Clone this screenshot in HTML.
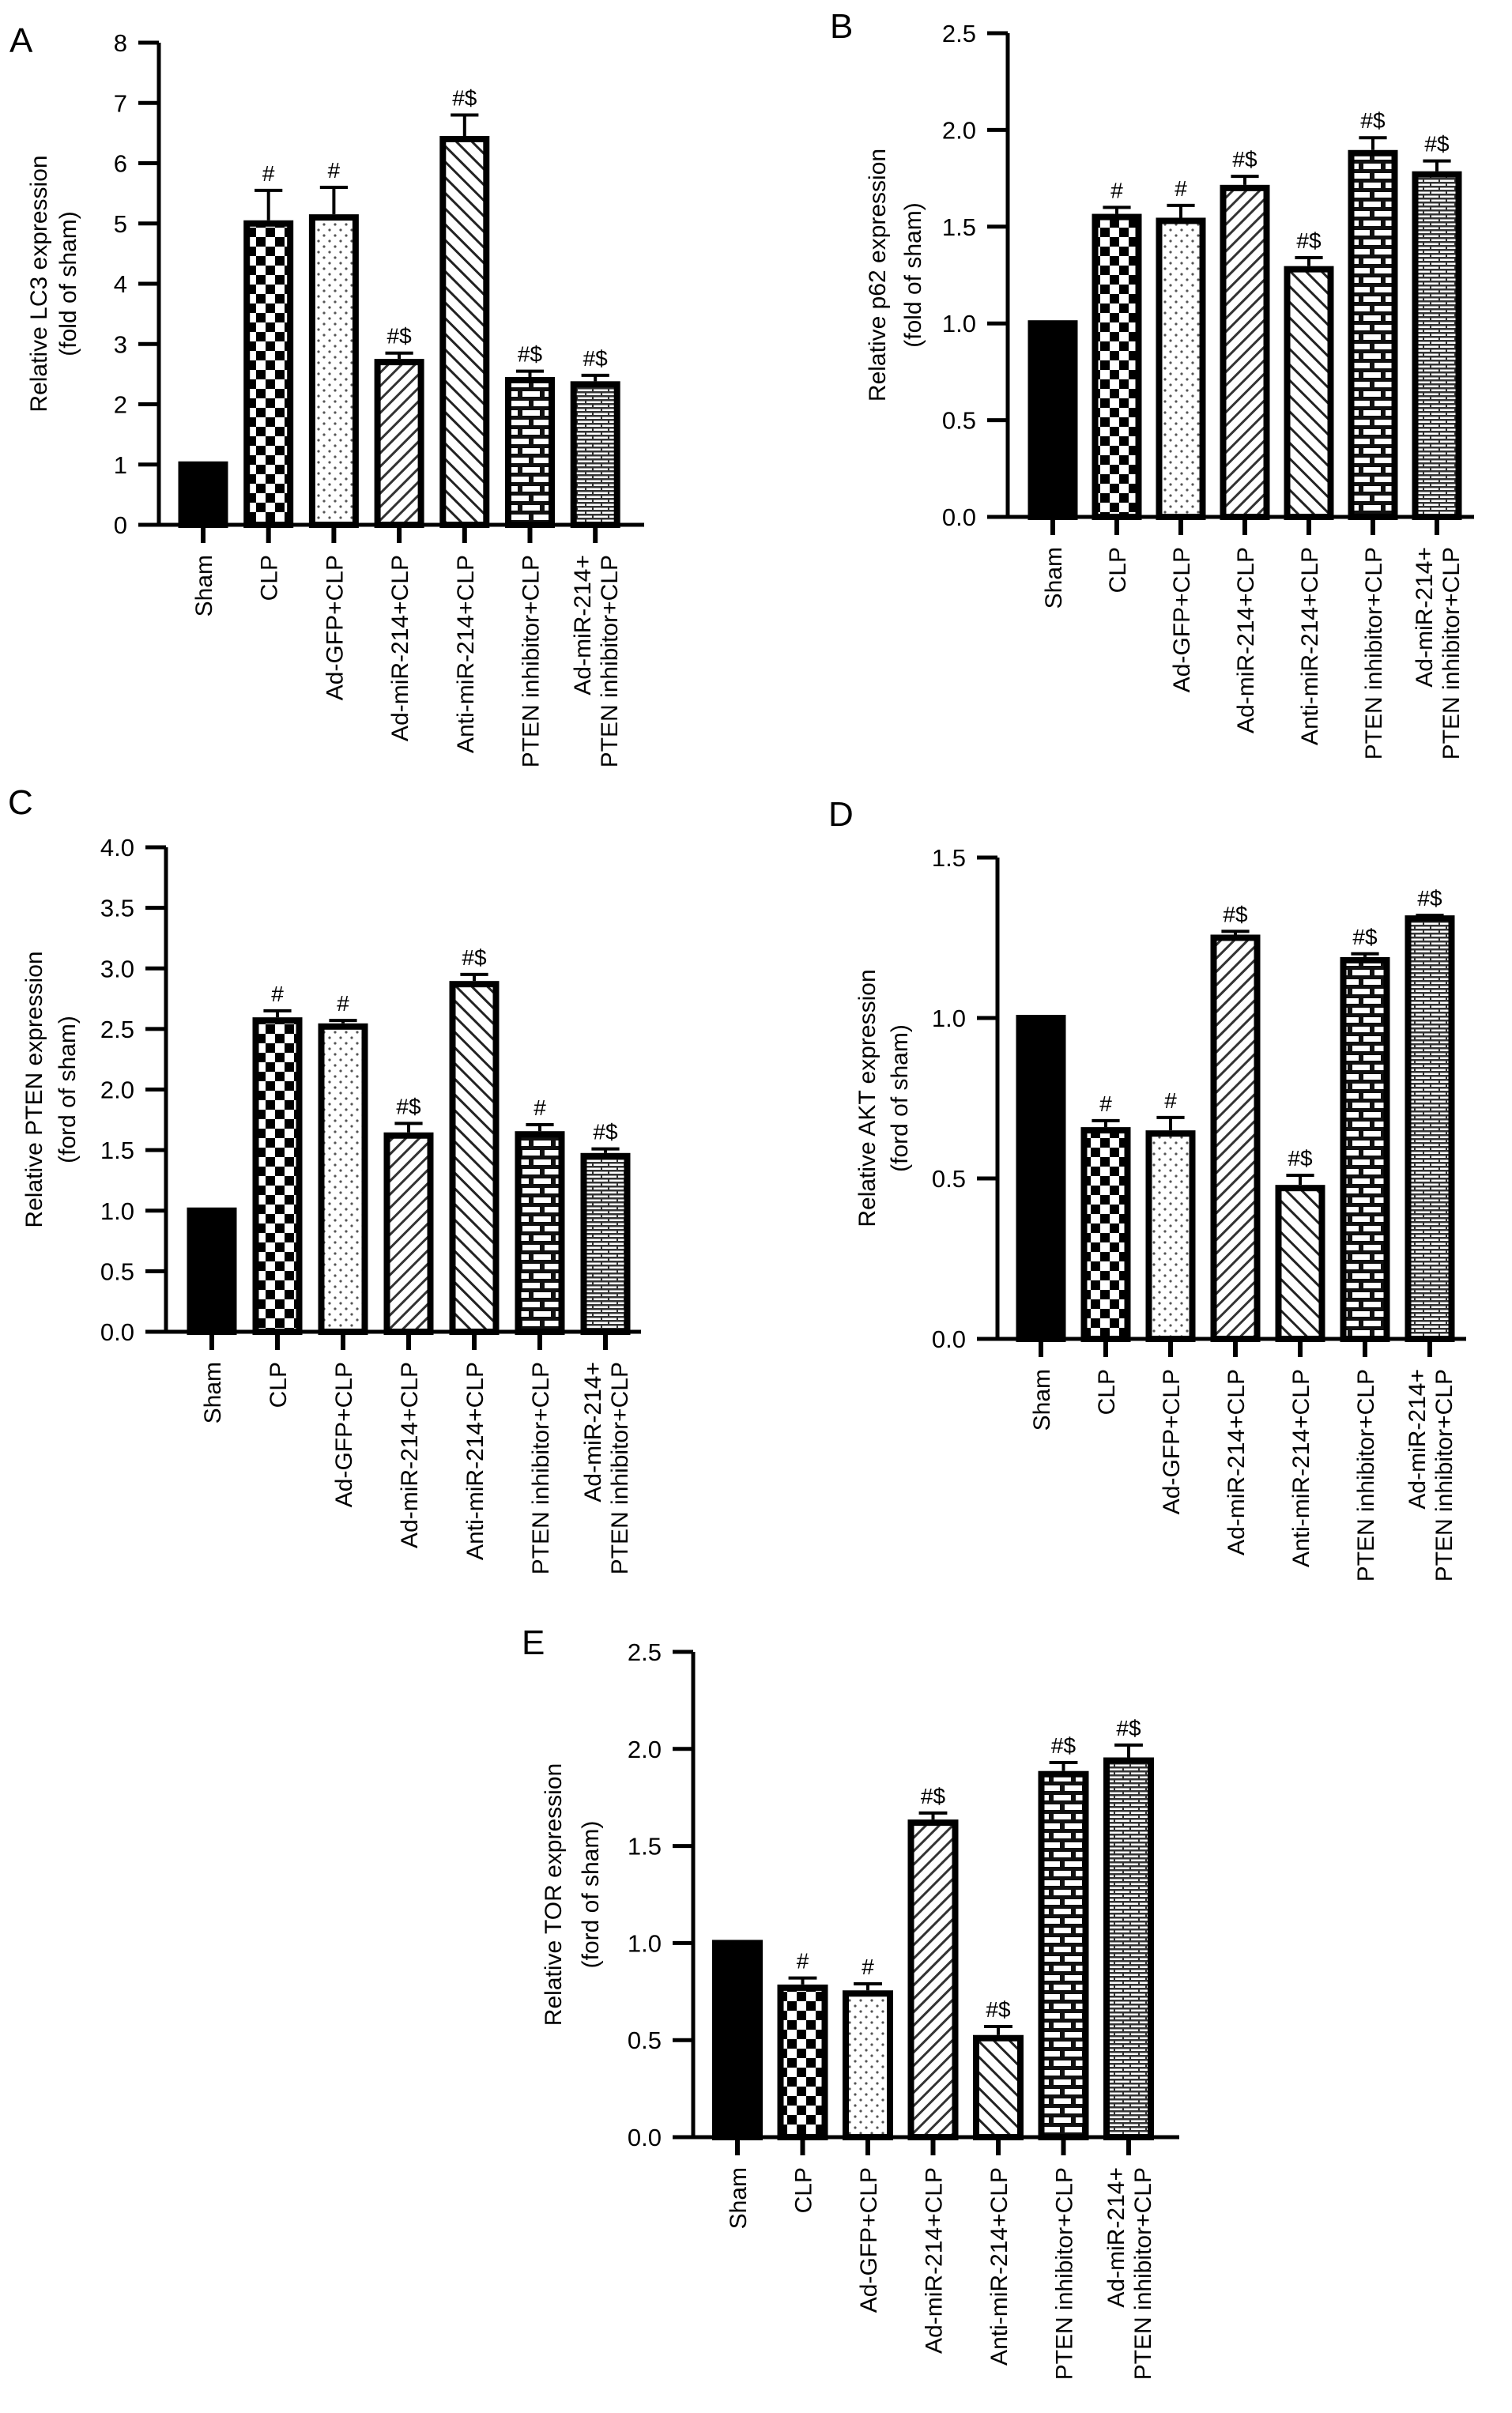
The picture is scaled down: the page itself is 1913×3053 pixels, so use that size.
<!DOCTYPE html>
<html><head><meta charset="utf-8"><style>
html,body{margin:0;padding:0;background:#fff}
svg{display:block;font-family:"Liberation Sans",Arial,sans-serif}
</style></head><body>
<svg id="fig" width="1913" height="3053" viewBox="0 0 1913 3053">
<defs>
<pattern id="p-check" width="24" height="24" patternUnits="userSpaceOnUse"><rect width="24" height="24" fill="#fff"/><rect width="12" height="12" fill="#000"/><rect x="12" y="12" width="12" height="12" fill="#000"/></pattern>
<pattern id="p-dots" width="14" height="14" patternUnits="userSpaceOnUse"><rect width="14" height="14" fill="#fff"/><circle cx="4" cy="4" r="1.6" fill="#555"/><circle cx="11" cy="11" r="1.6" fill="#555"/></pattern>
<pattern id="p-fwd" width="12" height="12" patternUnits="userSpaceOnUse" patternTransform="rotate(45)"><rect width="12" height="12" fill="#fff"/><rect width="3" height="12" fill="#333"/></pattern>
<pattern id="p-back" width="14" height="14" patternUnits="userSpaceOnUse" patternTransform="rotate(-45)"><rect width="14" height="14" fill="#fff"/><rect width="3" height="14" fill="#222"/></pattern>
<pattern id="p-brick" width="28" height="24" patternUnits="userSpaceOnUse"><rect width="28" height="24" fill="#111"/><rect x="3" y="3" width="22" height="7" fill="#fff"/><rect x="-11" y="15" width="22" height="7" fill="#fff"/><rect x="17" y="15" width="22" height="7" fill="#fff"/></pattern>
<pattern id="p-brick2" width="20" height="10" patternUnits="userSpaceOnUse"><rect width="20" height="10" fill="#fff"/><rect y="0" width="20" height="2.5" fill="#333"/><rect y="5" width="20" height="2.5" fill="#333"/><rect x="9" y="0" width="2" height="5" fill="#333"/><rect x="0" y="5" width="2" height="5" fill="#333"/></pattern>
</defs>
</svg>
<script>
const categories = ["Sham","CLP","Ad-GFP+CLP","Ad-miR-214+CLP","Anti-miR-214+CLP","PTEN inhibitor+CLP","Ad-miR-214+|PTEN inhibitor+CLP"];
const valuesA = [1, 5.0, 5.1, 2.7, 6.4, 2.4, 2.33];
const errA = [0, 0.55, 0.5, 0.15, 0.4, 0.15, 0.15];
const annA = ["", "#", "#", "#$", "#$", "#$", "#$"];
const ticksA = ["0","1","2","3","4","5","6","7","8"];
const valuesB = [1.0, 1.55, 1.53, 1.70, 1.28, 1.88, 1.77];
const errB = [0, 0.05, 0.08, 0.06, 0.06, 0.08, 0.07];
const annB = ["", "#", "#", "#$", "#$", "#$", "#$"];
const ticksB = ["0.0","0.5","1.0","1.5","2.0","2.5"];
const valuesC = [1.0, 2.57, 2.52, 1.62, 2.87, 1.63, 1.45];
const errC = [0, 0.08, 0.05, 0.1, 0.08, 0.08, 0.06];
const annC = ["", "#", "#", "#$", "#$", "#", "#$"];
const ticksC = ["0.0","0.5","1.0","1.5","2.0","2.5","3.0","3.5","4.0"];
const valuesD = [1.0, 0.65, 0.64, 1.25, 0.47, 1.18, 1.31];
const errD = [0, 0.03, 0.05, 0.02, 0.04, 0.02, 0.01];
const annD = ["", "#", "#", "#$", "#$", "#$", "#$"];
const ticksD = ["0.0","0.5","1.0","1.5"];
const valuesE = [1.0, 0.77, 0.74, 1.62, 0.51, 1.87, 1.94];
const errE = [0, 0.05, 0.05, 0.05, 0.06, 0.06, 0.08];
const annE = ["", "#", "#", "#$", "#$", "#$", "#$"];
const ticksE = ["0.0","0.5","1.0","1.5","2.0","2.5"];
const fills = ["#000","url(#p-check)","url(#p-dots)","url(#p-fwd)","url(#p-back)","url(#p-brick)","url(#p-brick2)"];
const NS="http://www.w3.org/2000/svg";
const svg=document.getElementById('fig');
function mk(tag,attrs,parent,text){const e=document.createElementNS(NS,tag);for(const k in attrs)e.setAttribute(k,attrs[k]);if(text!==undefined)e.textContent=text;parent.appendChild(e);return e;}
function panel(cfg){
  const g=mk('g',{},svg);
  
  
  const ymax=parseFloat(cfg.ticks[cfg.ticks.length-1]);
  const y=v=>cfg.y0-(v/ymax)*(cfg.y0-cfg.yTop);
  const x=i=>cfg.x0+i*cfg.step;
  const L=mk('text',{x:cfg.lx,y:cfg.ly,'font-size':44},g,cfg.letter);
  
  
  cfg.vals.forEach((v,i)=>{
    const bw=cfg.bw;
    const r=mk('rect',{x:x(i)-bw/2,y:y(v),width:bw,height:cfg.y0-y(v),fill:fills[i],stroke:'#000','stroke-width':8},g);
    
    
    if(cfg.err[i]>0){
      const et=y(v+cfg.err[i]);
      const e=mk('path',{d:`M${x(i)} ${y(v)-4} V${et} M${x(i)-bw*0.32} ${et} H${x(i)+bw*0.32}`,stroke:'#000','stroke-width':4,fill:'none'},g);
      
      
    }
    if(cfg.ann[i]){
      const t=mk('text',{x:x(i),y:y(v+cfg.err[i])-12,'font-size':28,'text-anchor':'middle'},g,cfg.ann[i]);
      
      
    }
    mk('line',{x1:x(i),x2:x(i),y1:cfg.y0,y2:cfg.y0+23,stroke:'#000','stroke-width':6},g);
    const parts=categories[i].split('|');
    parts.forEach((p,k)=>{
      const dx=parts.length>1?(k===0?-17:17):0;
      const tx=x(i)+dx+11;
      const ty=cfg.y0+38;
      const t=mk('text',{x:tx,y:ty,'font-size':30,'text-anchor':'end',transform:`rotate(-90 ${tx} ${ty})`},g,p);
      
      
    });
  });
  const ax=mk('path',{d:`M${cfg.axX} ${cfg.yTop} V${cfg.y0} M${cfg.axX-26} ${cfg.y0} H${cfg.xEnd}`,stroke:'#000','stroke-width':5,fill:'none'},g);
  
  
  cfg.ticks.forEach(tl=>{
    const yy=y(parseFloat(tl));
    mk('line',{x1:cfg.axX-26,x2:cfg.axX,y1:yy,y2:yy,stroke:'#000','stroke-width':5},g);
    const t=mk('text',{x:cfg.axX-40,y:yy+11,'font-size':31,'text-anchor':'end'},g,tl);
    
    
  });
  const cy=(cfg.y0+cfg.yTop)/2;
  cfg.title.forEach((s,k)=>{
    const tx=cfg.tx[k];
    const t=mk('text',{x:tx,y:cy,'font-size':30,'text-anchor':'middle',transform:`rotate(-90 ${tx} ${cy})`},g,s);
    
    
  });
}
panel({letter:'A',lx:12,ly:66,axX:201,yTop:54,y0:664,x0:257,step:82.7,bw:55,xEnd:815,vals:valuesA,err:errA,ann:annA,ticks:ticksA,title:['Relative LC3 expression','(fold of sham)'],tx:[59,96]});
panel({letter:'B',lx:1050,ly:48,axX:1275,yTop:42,y0:654,x0:1332,step:81,bw:55,xEnd:1865,vals:valuesB,err:errB,ann:annB,ticks:ticksB,title:['Relative p62 expression','(fold of sham)'],tx:[1120,1165]});
panel({letter:'C',lx:10,ly:1030,axX:210,yTop:1072,y0:1685,x0:268,step:83,bw:55,xEnd:811,vals:valuesC,err:errC,ann:annC,ticks:ticksC,title:['Relative PTEN expression','(ford of sham)'],tx:[53,95]});
panel({letter:'D',lx:1048,ly:1045,axX:1262,yTop:1085,y0:1694,x0:1317,step:82,bw:55,xEnd:1855,vals:valuesD,err:errD,ann:annD,ticks:ticksD,title:['Relative AKT expression','(ford of sham)'],tx:[1107,1148]});
panel({letter:'E',lx:660,ly:2093,axX:877,yTop:2090,y0:2704,x0:933,step:82.5,bw:56,xEnd:1492,vals:valuesE,err:errE,ann:annE,ticks:ticksE,title:['Relative TOR expression','(ford of sham)'],tx:[710,757]});
</script>
</body></html>
